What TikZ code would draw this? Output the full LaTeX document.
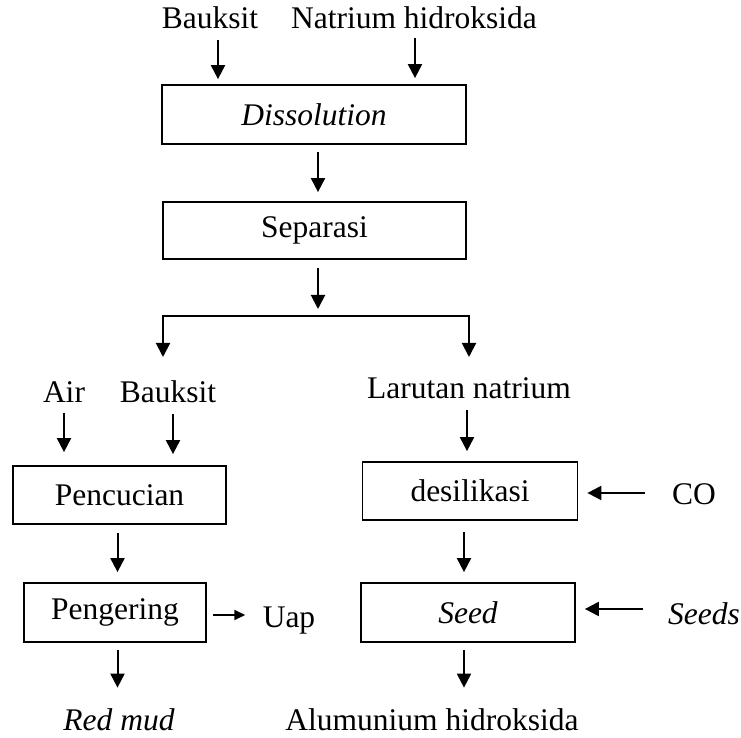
\documentclass[tikz,border=0pt]{standalone}
\usepackage{fontspec}
\setmainfont{Liberation Serif}
\usetikzlibrary{arrows.meta}
\tikzset{
  txt/.style={font=\fontsize{12.6}{15}\selectfont},
  box/.style={txt, draw, line width=0.7pt, inner sep=0pt},
  lab/.style={txt, inner sep=0pt, anchor=base},
  flow/.style={line width=0.8pt, -{Triangle[width=5.6pt,length=5.6pt]}},
  fork/.style={line width=0.8pt, {Triangle[width=5.6pt,length=5.6pt]}-{Triangle[width=5.6pt,length=5.6pt]}},
  flowsmall/.style={line width=0.8pt, -{Triangle[width=4pt,length=4.4pt]}},
}
\begin{document}
\begin{tikzpicture}[x=0.4pt, y=-0.4pt]
  \useasboundingbox (0,0) rectangle (741,738);

  % process boxes
  \node[box, minimum width=121.6pt, minimum height=23.6pt] (diss) at (314,114.5) {\itshape Dissolution};
  \node[box, minimum width=121.2pt, minimum height=22.8pt] (sep) at (314.5,230.5) {Separasi};
  \node[box, minimum width=85.2pt, minimum height=23.2pt] (penc) at (119.5,495) {Pencucian};
  \node[box, minimum width=72.8pt, minimum height=23.6pt] (peng) at (115,612.5) {Pengering};
  \node[box, minimum width=86pt, minimum height=23.2pt] (desil) at (470,491) {desilikasi};
  \node[box, minimum width=85.6pt, minimum height=23.6pt] (seed) at (468,612.5) {\itshape Seed};

  % labels
  \node[lab] (bauksit) at (210,29) {Bauksit};
  \node[lab] (naoh) at (414,29) {Natrium hidroksida};
  \node[lab] (air) at (64,403) {Air};
  \node[lab] (bauksitb) at (168,403) {Bauksit};
  \node[lab] (larutan) at (469,399) {Larutan natrium};
  \node[lab] (co) at (694,505) {CO};
  \node[lab] (uap) at (289,628) {Uap};
  \node[lab] (seeds) at (704,625) {\itshape Seeds};
  \node[lab] (redmud) at (119,731) {\itshape Red mud};
  \node[lab] (alum) at (432,731) {Alumunium hidroksida};

  % arrow starts
  \coordinate (a1) at (218,40);
  \coordinate (a2) at (415,38);
  \coordinate (a3) at (318,152);
  \coordinate (a4) at (318,268);
  \coordinate (bar) at (318,316);
  \coordinate (bl) at (163,357);
  \coordinate (br) at (469,357);
  \coordinate (a6) at (64,413);
  \coordinate (a7) at (173,414);
  \coordinate (a8) at (117.5,533);
  \coordinate (a9) at (213,615);
  \coordinate (a10) at (117.5,650);
  \coordinate (a11) at (467,410);
  \coordinate (a12) at (644.5,493);
  \coordinate (a13) at (464,532);
  \coordinate (a14) at (643,609);
  \coordinate (a15) at (464,650);

  \draw[flow, shorten >=2pt] (a1) -- (a1 |- diss.north);
  \draw[flow, shorten >=2.4pt] (a2) -- (a2 |- diss.north);
  \draw[flow, shorten >=3.6pt] (a3) -- (a3 |- sep.north);
  \draw[flow, shorten >=2.8pt] (a4) -- (bar);
  \draw[fork] (bl) -- (bl |- bar) -- (br |- bar) -- (br);

  % left branch
  \draw[flow, shorten >=5.2pt] (a6) -- (a6 |- penc.north);
  \draw[flow, shorten >=4.4pt] (a7) -- (a7 |- penc.north);
  \draw[flow, shorten >=4pt] (a8) -- (a8 |- peng.north);
  \draw[flowsmall, shorten >=6.8pt] (a9) -- (a9 -| uap.west);
  \draw[flow, shorten >=8.4pt] (a10) -- (a10 |- redmud.north);

  % right branch
  \draw[flow, shorten >=4pt] (a11) -- (a11 |- desil.north);
  \draw[flow, shorten >=3.6pt] (a12) -- (a12 -| desil.east);
  \draw[flow, shorten >=4pt] (a13) -- (a13 |- seed.north);
  \draw[flow, shorten >=3.6pt] (a14) -- (a14 -| seed.east);
  \draw[flow, shorten >=8.4pt] (a15) -- (a15 |- alum.north);
\end{tikzpicture}
\end{document}
